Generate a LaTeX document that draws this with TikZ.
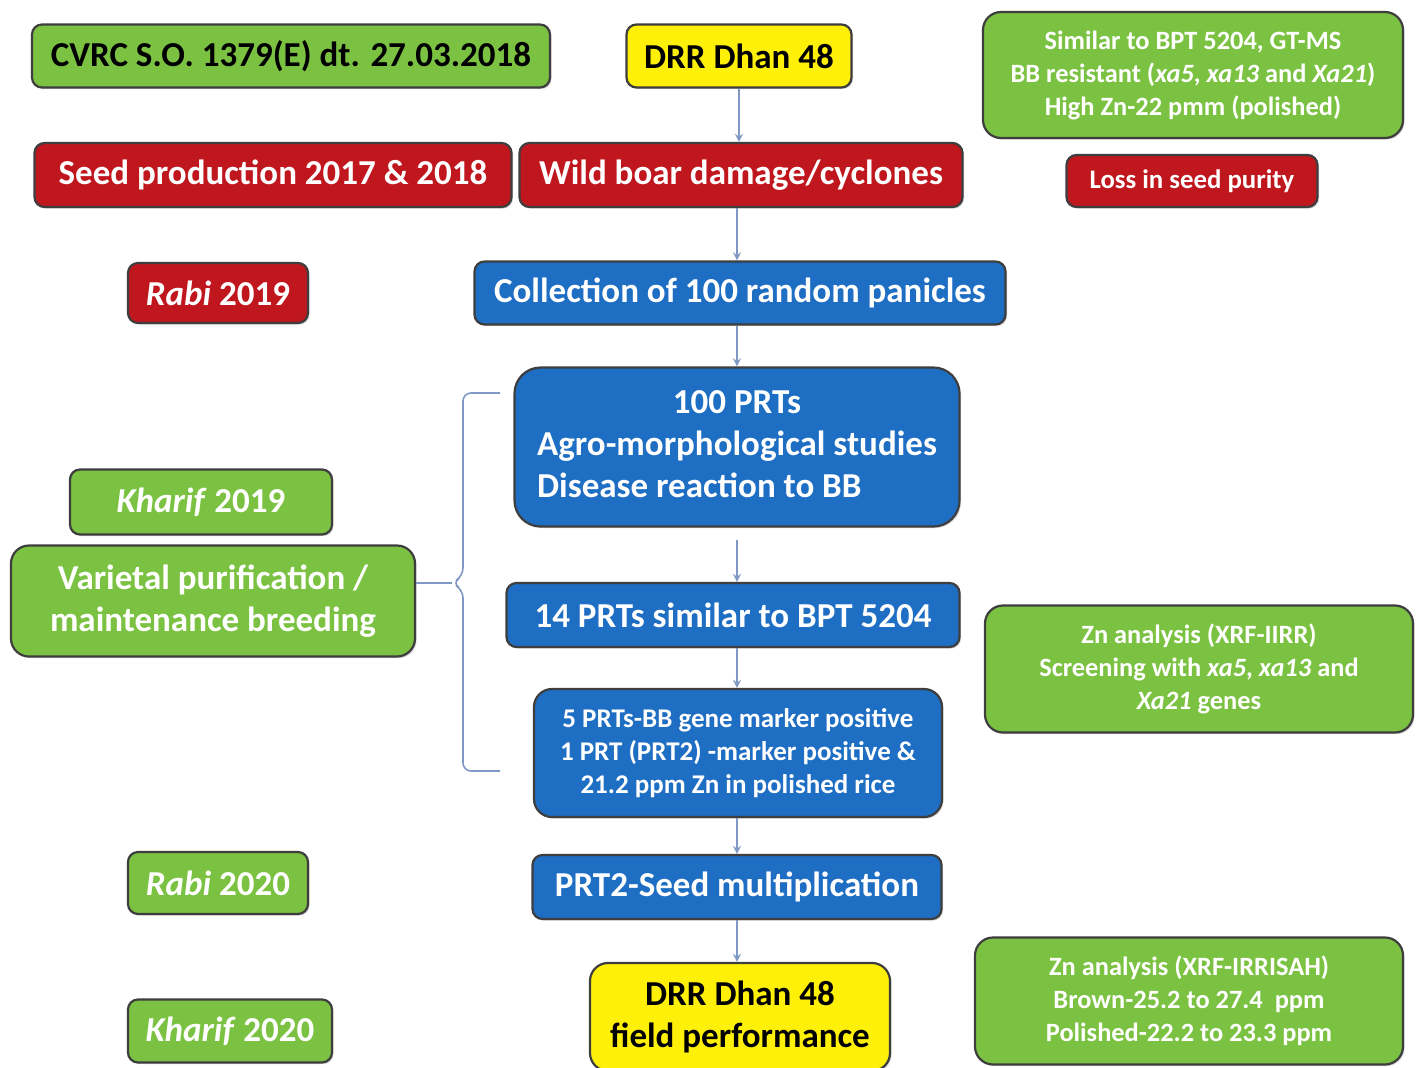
\documentclass[tikz,border=0pt]{standalone}
\usepackage{fontspec}
\setmainfont{Carlito}
\usetikzlibrary{shadows}

\definecolor{leafgreen}{RGB}{124,194,66}
\definecolor{boxred}{RGB}{192,22,30}
\definecolor{boxblue}{RGB}{30,110,196}
\definecolor{boxyellow}{RGB}{255,240,10}
\definecolor{boxline}{RGB}{62,62,62}
\definecolor{arrowblue}{RGB}{128,152,196}

\tikzset{
    box/.style={draw=boxline, line width=1.1pt, rounded corners=5pt, align=center, inner sep=0pt,
        text=white, font=\bfseries\fontsize{17.5}{21}\selectfont,
        drop shadow={shadow xshift=0.8pt, shadow yshift=-0.8pt, opacity=0.3}},
    greenbox/.style={box, fill=leafgreen},
    redbox/.style={box, fill=boxred},
    bluebox/.style={box, fill=boxblue},
    yellowbox/.style={box, fill=boxyellow, text=black},
    smalltext/.style={font=\bfseries\fontsize{13.2}{16.5}\selectfont},
    flow/.style={->, draw=arrowblue, line width=0.8pt},
    bracket/.style={draw=arrowblue, line width=0.8pt, rounded corners=4pt}
}

\begin{document}
\begin{tikzpicture}[>=stealth, x=0.5pt, y=-0.5pt]
    \useasboundingbox[fill=white] (0,0) rectangle (1419,1067);

    % Top rows
    \node[greenbox, text=black, minimum width=259pt, minimum height=31.5pt] (cvrc) at (291,56) {CVRC S.O. 1379(E) dt. 27.03.2018};
    \node[yellowbox, minimum width=112.5pt, minimum height=31.5pt] (dhan) at (739,56) {DRR Dhan 48};
    \node[greenbox, smalltext, minimum width=210pt, minimum height=63pt, rounded corners=9pt] (traits) at (1193,75)
        {Similar to BPT 5204, GT-MS\\BB resistant (\textit{xa5}, \textit{xa13} and \textit{Xa21})\\High Zn-22 pmm (polished)};
    \node[redbox, minimum width=238.5pt, minimum height=32pt] (seedprod) at (273,175) {Seed production 2017 \& 2018};
    \node[redbox, minimum width=221.5pt, minimum height=32pt] (boar) at (741,175) {Wild boar damage/cyclones};
    \node[redbox, font=\bfseries\fontsize{13.4}{16}\selectfont, minimum width=125.5pt, minimum height=26pt] (purity) at (1192,181) {Loss in seed purity};

    % Seasons
    \node[redbox, minimum width=90pt, minimum height=30pt] (rabi19) at (218,293) {\textit{Rabi} 2019};
    \node[greenbox, minimum width=131pt, minimum height=32.5pt] (kharif19) at (201,502) {\textit{Kharif} 2019};
    \node[greenbox, minimum width=202pt, minimum height=55.5pt, rounded corners=9pt] (purify) at (213,601) {Varietal purification /\\maintenance breeding};
    \node[greenbox, minimum width=90pt, minimum height=31pt] (rabi20) at (218,883) {\textit{Rabi} 2020};
    \node[greenbox, minimum width=102pt, minimum height=31.5pt] (kharif20) at (230,1031) {\textit{Kharif} 2020};

    % Main column
    \node[bluebox, minimum width=265.5pt, minimum height=31.5pt] (panicles) at (740,293) {Collection of 100 random panicles};
    \node[bluebox, minimum width=222.5pt, minimum height=79.5pt, rounded corners=13pt] (prts100) at (737,447)
        {\begin{tabular}{@{}l@{}}\multicolumn{1}{@{}c@{}}{100 PRTs}\\Agro-morphological studies\\Disease reaction to BB\end{tabular}};
    \node[bluebox, minimum width=226.5pt, minimum height=32pt] (prts14) at (733,615) {14 PRTs similar to BPT 5204};
    \node[bluebox, font=\bfseries\fontsize{13.5}{16.5}\selectfont, minimum width=204pt, minimum height=64pt, rounded corners=9pt] (prts5) at (738,753)
        {5 PRTs-BB gene marker positive\\1 PRT (PRT2) -marker positive \&\\21.2 ppm Zn in polished rice};
    \node[bluebox, minimum width=204.5pt, minimum height=32pt] (prt2) at (737,887) {PRT2-Seed multiplication};
    \node[yellowbox, minimum width=150pt, minimum height=54pt, rounded corners=9pt] (field) at (740,1017) {DRR Dhan 48\\field performance};

    % Right notes
    \node[greenbox, smalltext, minimum width=214pt, minimum height=63.5pt, rounded corners=9pt] (screening) at (1199,669)
        {Zn analysis (XRF-IIRR)\\Screening with \textit{xa5}, \textit{xa13} and\\\textit{Xa21} genes};
    \node[greenbox, smalltext, minimum width=214pt, minimum height=63.5pt, rounded corners=9pt] (zinc) at (1189,1001)
        {Zn analysis (XRF-IRRISAH)\\Brown-25.2 to 27.4~ ppm\\Polished-22.2 to 23.3 ppm};

    % Arrows
    \draw[flow] (dhan.south) -- (dhan.south |- boar.north);
    \draw[flow] (prts100.south |- boar.south) -- (prts100.south |- panicles.north);
    \draw[flow] (prts100.north |- panicles.south) -- (prts100.north);
    \draw[flow, shorten <=6pt] (prts100.south) -- (prts100.south |- prts14.north);
    \draw[flow] (prts100.south |- prts14.south) -- (prts100.south |- prts5.north);
    \draw[flow] (prts100.south |- prts5.south) -- (prts100.south |- prt2.north);
    \draw[flow] (prts100.south |- prt2.south) -- (prts100.south |- field.north);

    % Bracket
    \coordinate (tip) at (452,583);
    \draw[bracket] (500,393) -- (463,393) -- (463,576) -- (tip) -- (463,590) -- (463,771) -- (500,771);
    \draw[bracket] (purify.east |- tip) -- (tip);
\end{tikzpicture}
\end{document}
